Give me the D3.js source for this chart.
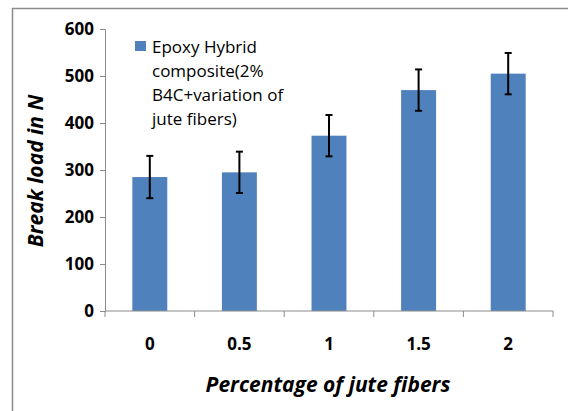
<!DOCTYPE html>
<meta charset="utf-8">
<script src="https://d3js.org/d3.v7.min.js"></script>
<style>
  body { margin: 0; background: #fff; }
</style>
<div id="chart"></div>
<script>
// data
var categories = ["0", "0.5", "1", "1.5", "2"]
var breakLoad = [285, 295, 373, 470, 505]
var errors = [45, 44, 44, 44, 44]
var yTicks = [0, 100, 200, 300, 400, 500, 600]
var legendLines = ["Epoxy Hybrid", "composite(2%", "B4C+variation of", "jute fibers)"]

var width = 568, height = 411
var margin = {left: 105, right: 15, top: 29, bottom: 100}
var font = "'Open Sans', Lato, sans-serif"

var svg = d3.select("#chart").append("svg")
    .attr("width", width).attr("height", height)

// outer chart frame
svg.append("rect")
    .attr("x", 12.5).attr("y", 8.5)
    .attr("width", 600).attr("height", 500)
    .attr("fill", "white")
    .attr("stroke", "#8c8c8c")
    .attr("stroke-width", 1.5)

var x = d3.scaleBand()
    .domain(categories)
    .range([margin.left, width - margin.right])
    .paddingInner(0.61).paddingOuter(0.305)

var y = d3.scaleLinear()
    .domain([0, 600])
    .range([height - margin.bottom, margin.top])

// bars
svg.append("g")
    .selectAll("rect")
    .data(breakLoad)
    .enter()
    .append("rect")
      .attr("x", function(d, i){ return x(categories[i]) })
      .attr("y", function(d){ return y(d) })
      .attr("width", x.bandwidth())
      .attr("height", function(d){ return y(0) - y(d) })
      .attr("fill", "#4f81bd")

// error bars
var eb = svg.append("g").attr("stroke", "#000").attr("stroke-width", 2)
breakLoad.forEach(function(d, i){
  var cx = x(categories[i]) + x.bandwidth() / 2
  eb.append("line").attr("x1", cx).attr("x2", cx)
    .attr("y1", y(d - errors[i])).attr("y2", y(d + errors[i]))
  eb.append("line").attr("x1", cx - 3.5).attr("x2", cx + 3.5)
    .attr("y1", y(d + errors[i])).attr("y2", y(d + errors[i]))
  eb.append("line").attr("x1", cx - 3.5).attr("x2", cx + 3.5)
    .attr("y1", y(d - errors[i])).attr("y2", y(d - errors[i]))
})

// y axis
var yAxis = svg.append("g")
    .attr("transform", "translate(" + margin.left + ",0)")
    .call(d3.axisLeft(y).tickValues(yTicks).tickSize(5).tickPadding(6))
yAxis.selectAll("line, path").attr("stroke", "#8c8c8c")
yAxis.selectAll("text")
    .style("font-family", font)
    .style("font-weight", "bold")
    .style("font-size", "17px")
    .attr("fill", "#000")

// x axis with ticks between categories
var xAxis = svg.append("g")
    .attr("transform", "translate(0," + y(0) + ")")
xAxis.append("line")
    .attr("x1", margin.left).attr("x2", width - margin.right)
    .attr("stroke", "#8c8c8c")
xAxis.selectAll(".tk")
    .data(d3.range(categories.length + 1))
    .enter()
    .append("line")
      .attr("x1", function(i){ return margin.left + i * x.step() })
      .attr("x2", function(i){ return margin.left + i * x.step() })
      .attr("y1", 0).attr("y2", 6)
      .attr("stroke", "#8c8c8c")
xAxis.selectAll("text")
    .data(categories)
    .enter()
    .append("text")
      .attr("x", function(d){ return x(d) + x.bandwidth() / 2 })
      .attr("y", 39)
      .attr("text-anchor", "middle")
      .style("font-family", font)
      .style("font-weight", "bold")
      .style("font-size", "17px")
      .text(function(d){ return d })

// axis titles
svg.append("text")
    .attr("x", 328).attr("y", 392)
    .attr("text-anchor", "middle")
    .style("font-family", font)
    .style("font-weight", "bold")
    .style("font-style", "italic")
    .style("font-size", "21px")
    .text("Percentage of jute fibers")

svg.append("text")
    .attr("transform", "translate(43,171) rotate(-90)")
    .attr("text-anchor", "middle")
    .style("font-family", font)
    .style("font-weight", "bold")
    .style("font-style", "italic")
    .style("font-size", "21px")
    .text("Break load in N")

// legend
var legend = svg.append("g")
legend.append("rect")
    .attr("x", 135).attr("y", 41)
    .attr("width", 11).attr("height", 10)
    .attr("fill", "#4f81bd")
legend.selectAll("text")
    .data(legendLines)
    .enter()
    .append("text")
      .attr("x", 152)
      .attr("y", function(d, i){ return 53 + i * 24 })
      .style("font-family", font)
      .style("font-size", "17px")
      .text(function(d){ return d })
</script>
